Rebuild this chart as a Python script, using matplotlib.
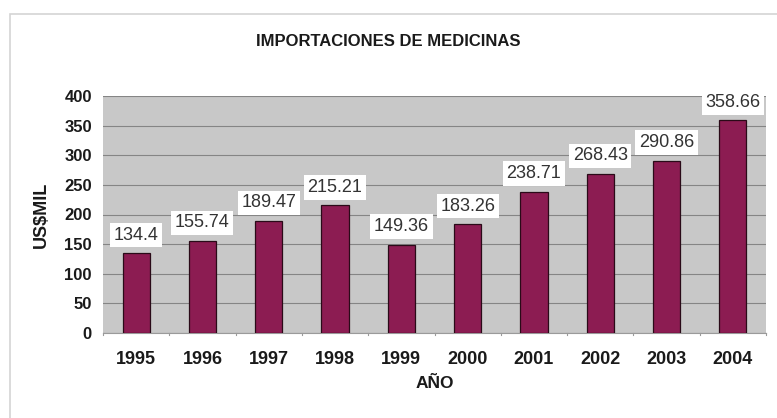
import matplotlib.pyplot as plt
from matplotlib.patches import Rectangle

# Importaciones de medicinas por año (US$ miles)
years = ['1995', '1996', '1997', '1998', '1999', '2000', '2001', '2002', '2003', '2004']
values = [134.4, 155.74, 189.47, 215.21, 149.36, 183.26, 238.71, 268.43, 290.86, 358.66]
value_labels = ['134.4', '155.74', '189.47', '215.21', '149.36', '183.26', '238.71', '268.43', '290.86', '358.66']
yticks = [0, 50, 100, 150, 200, 250, 300, 350, 400]

plt.rcParams['font.family'] = ['Liberation Sans', 'DejaVu Sans']

fig = plt.figure(figsize=(7.77, 4.18), dpi=100)
frame = Rectangle((10 / 777, -0.05), 1.1, 1 - 14 / 418 + 0.05,
                  transform=fig.transFigure, facecolor='white',
                  edgecolor='#d4d4d4', linewidth=1.2, zorder=-5)
fig.add_artist(frame)

ax = fig.add_axes([103 / 777, 1 - 333 / 418, 663 / 777, 237 / 418])
ax.set_facecolor('#c8c8c8')

x = range(len(years))
ax.bar(x, values, width=0.41, color='#8c1c52', edgecolor='#2a0a18', linewidth=0.9, zorder=3)

for i, (v, lab) in enumerate(zip(values, value_labels)):
    ax.annotate(lab, (i, v), xytext=(0, 13), textcoords='offset points',
                ha='center', va='center', fontsize=13, color='#333333', zorder=4,
                bbox=dict(boxstyle='square,pad=0.2', facecolor='white', edgecolor='none'))

ax.set_xlim(-0.5, len(years) - 0.5)
ax.set_ylim(0, 400)
ax.set_yticks(yticks)
ax.set_xticks(list(x))
ax.set_xticklabels(years)
ax.tick_params(axis='both', length=0, colors='#1a1a1a')
ax.tick_params(axis='x', pad=13, labelsize=13)
ax.tick_params(axis='y', pad=8, labelsize=12)
for lbl in ax.get_xticklabels() + ax.get_yticklabels():
    lbl.set_fontweight('bold')

ax.grid(axis='y', color='#858585', linewidth=0.8, zorder=1)
for side in ['top', 'right', 'left']:
    ax.spines[side].set_visible(False)
ax.spines['bottom'].set_color('#9a9a9a')

# separadores entre categorías en el eje x
for i in range(len(years) + 1):
    ax.plot([i - 0.5, i - 0.5], [0, -4], color='#9a9a9a', linewidth=0.8, clip_on=False)

fig.text(0.5, 1 - 42 / 418, 'IMPORTACIONES DE MEDICINAS', ha='center', va='center',
         fontsize=12, fontweight='bold', color='#1a1a1a')
fig.text(41 / 777, 1 - 215 / 418, 'US$MIL', rotation=90, ha='center', va='center',
         fontsize=13, fontweight='bold', color='#1a1a1a')
fig.text(435 / 777, 1 - 383 / 418, 'AÑO', ha='center', va='center',
         fontsize=12.5, fontweight='bold', color='#1a1a1a')

fig.savefig('out.png', dpi=100)
